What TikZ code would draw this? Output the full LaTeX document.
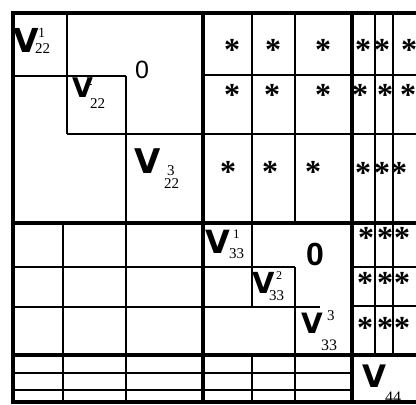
\documentclass[tikz,border=0pt]{standalone}
\usepackage{fontspec}
\setmainfont{Liberation Sans}
\newfontfamily\vfont{DejaVu Sans}
\newfontfamily\idxfont{Liberation Serif}
\begin{document}
\begin{tikzpicture}[x=1pt,y=-1pt,heavy/.style={line width=4.5pt,line cap=rect},light/.style={line width=1.4pt},vletter/.style={anchor=base west,inner sep=0pt,font=\vfont\bfseries\fontsize{#1}{#1}\selectfont},idx/.style={anchor=base west,inner sep=0pt,font=\idxfont\fontsize{#1}{#1}\selectfont},star/.style={anchor=base,inner sep=0pt,yshift=-15pt,font=\idxfont\bfseries\fontsize{32}{32}\selectfont}]
\useasboundingbox (0,0) rectangle (416,405);
\fill[white] (0,0) rectangle (416,405);
% thin grid lines
\draw[light] (13,76)--(126,76);
\draw[light] (67,13)--(67,134);
\draw[light] (126,76)--(126,402);
\draw[light] (67,134)--(416,134);
\draw[light] (203,75)--(416,75);
\draw[light] (252,13)--(252,306);
\draw[light] (252,355)--(252,402);
\draw[light] (295,13)--(295,223);
\draw[light] (295,267)--(295,402);
\draw[light] (375,13)--(375,355);
\draw[light] (393,13)--(393,355);
\draw[light] (352,267)--(416,267);
\draw[light] (352,306)--(416,306);
\draw[light] (63,223)--(63,402);
\draw[light] (13,267)--(295,267);
\draw[light] (13,307)--(320,307);
\draw[light] (13,373)--(352,373);
\draw[light] (13,390)--(352,390);
% block borders
\draw[heavy] (13,13)--(416,13);
\draw[heavy] (13,13)--(13,402);
\draw[heavy] (203,13)--(203,402);
\draw[heavy] (352,13)--(352,402);
\draw[heavy] (13,223)--(416,223);
\draw[heavy] (13,355)--(416,355);
\draw[heavy] (13,402)--(416,402);
% diagonal blocks
\node[vletter=33] (va1) at (13,52) {V};
\node[idx=14] (va1s) at (38,37) {1};
\node[idx=15] (va1i) at (35,53) {22};
\node[vletter=27] (va2) at (72,97) {V};
\node[idx=13] (va2s) at (86,85) {2};
\node[idx=15] (va2i) at (90,108) {22};
\node[vletter=34] (va3) at (134,173) {V};
\node[idx=15] (va3s) at (167,175) {3};
\node[idx=15] (va3i) at (164,188) {22};
\node[anchor=base west,inner sep=0pt,font=\fontsize{25}{25}\selectfont] (za) at (135,78) {0};
\node[vletter=32] (vb1) at (205,253) {V};
\node[idx=13] (vb1s) at (233,238) {1};
\node[idx=15] (vb1i) at (229,258) {33};
\node[vletter=29] (vb2) at (252,293) {V};
\node[idx=12] (vb2s) at (276,279) {2};
\node[idx=15] (vb2i) at (269,300) {33};
\node[vletter=28] (vb3) at (301,333) {V};
\node[idx=15] (vb3s) at (327,320) {3};
\node[idx=16] (vb3i) at (321,350) {33};
\node[anchor=base west,inner sep=0pt,font=\bfseries\fontsize{32}{32}\selectfont] (zb) at (306,265) {0};
\node[vletter=31] (vc) at (362,387) {V};
\node[idx=16] (vci) at (385,402) {44};
% off-diagonal entries
\foreach \x/\y [count=\i] in {232/45,273/45,323/45,232/90,272/90,323/90,228/167,270/167,313/167,363/45,382/45,409/45,360/90,385/90,408/90,363/168,382/168,399/168,366/233,385/233,402/233,365/278,385/278,402/278,365/323,385/323,402/323}
  \node[star] (s\i) at (\x,\y) {*};
\end{tikzpicture}
\end{document}
